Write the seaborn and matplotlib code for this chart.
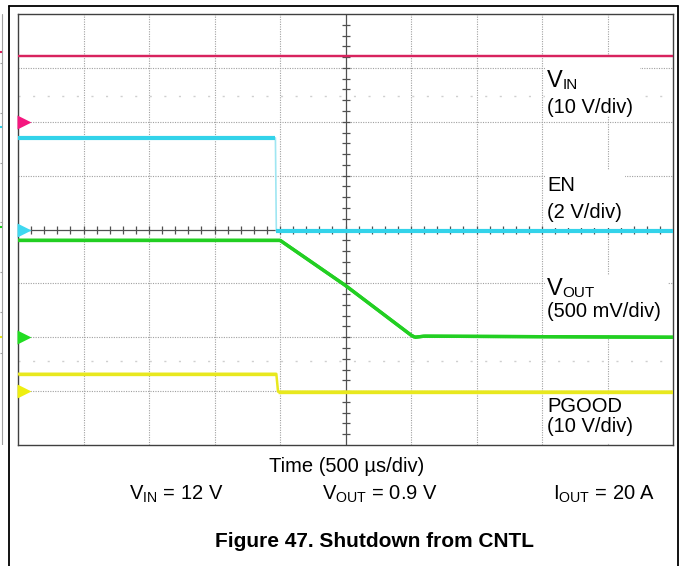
import numpy as np
import pandas as pd
import matplotlib.pyplot as plt
import seaborn as sns
from matplotlib.patches import Rectangle
from matplotlib.lines import Line2D

# scope traces, time in microseconds (500 us/div, 10 div)
time_vin = [0, 5000]
vin = [12.2, 12.2]

time_en = [0, 1965, 1972, 5000]
en = [3.4, 3.4, -0.06, -0.06]

time_vout = [0, 2000, 2250, 2500, 2750, 3000, 3030, 3100, 5000]
vout = [0.9, 0.9, 0.69, 0.48, 0.25, 0.02, 0.0, 0.01, 0.0]

time_pgood = [0, 1972, 1985, 5000]
pgood = [3.2, 3.2, -0.1, -0.1]

channels = ["VIN", "EN", "VOUT", "PGOOD"]
volts_per_div = [10, 2, 0.5, 10]
ground_div = [6, 4, 2, 1]
trace_colors = ["#d8235e", "#33d3ea", "#22cf22", "#e8e81e"]
edge_colors = ["#d8235e", "#9fe6f2", "#22cf22", "#e8e81e"]
marker_colors = ["#f5177f", "#3fd8f0", "#22dd22", "#eeee10"]
trace_widths = [1.6, 3.0, 2.4, 2.4]
edge_widths = [1.6, 1.2, 2.4, 1.8]

label_main = ["V", "EN", "V", "PGOOD"]
label_sub = ["IN", "", "OUT", ""]
label_scale = ["(10 V/div)", "(2 V/div)", "(500 mV/div)", "(10 V/div)"]

conditions = [r"$\mathregular{V_{IN}}$ = 12 V", r"$\mathregular{V_{OUT}}$ = 0.9 V",
              r"$\mathregular{I_{OUT}}$ = 20 A"]


def main():
    sns.set_theme(style="white")
    plt.rcParams["font.family"] = ["Liberation Sans", "DejaVu Sans"]
    plt.rcParams["mathtext.fontset"] = "custom"
    plt.rcParams["mathtext.rm"] = "Liberation Sans"
    plt.rcParams["text.color"] = "black"

    W, H = 683, 566
    fig = plt.figure(figsize=(W / 100, H / 100), dpi=100)

    # plot area in pixels: x 18..673, y 14..445
    ax = fig.add_axes([18 / W, 1 - 445 / H, 655 / W, 431 / H])
    ax.set_xlim(0, 5000)
    ax.set_ylim(0, 8)
    ax.set_xticks([])
    ax.set_yticks([])
    for s in ax.spines.values():
        s.set_color("#404040")
        s.set_linewidth(1.0)

    # graticule
    for x in range(500, 5000, 500):
        if x != 2500:
            ax.axvline(x, color="#a0a0a0", lw=0.8, ls=(0, (1, 1.2)), zorder=1)
    for y in range(1, 8):
        if y != 4:
            ax.axhline(y, color="#a0a0a0", lw=0.8, ls=(0, (1, 1.2)), zorder=1)
    ax.axvline(2500, color="#505050", lw=0.9, zorder=1)
    ax.axhline(4, color="#505050", lw=0.9, zorder=1)
    ax.plot(np.arange(100, 5000, 100), np.full(49, 4.0), ls="none", marker="|",
            ms=5.5, mew=0.9, color="#505050", zorder=1)
    ax.plot(np.full(39, 2500.0), np.arange(0.2, 8, 0.2), ls="none", marker="_",
            ms=5.5, mew=0.9, color="#505050", zorder=1)
    # faint ghost cursor lines
    for y in (6.47, 1.56):
        ax.axhline(y, color="#cfcfcf", lw=1.0, ls=(0, (1.5, 9)), zorder=1)

    # white backgrounds behind the channel labels
    boxes = [(4023, 6.1, 725, 1.09), (4023, 4.03, 611, 1.08),
             (4023, 2.04, 939, 1.12), (4023, 0.04, 939, 0.89)]
    for bx, by, bw, bh in boxes:
        ax.add_patch(Rectangle((bx, by), bw, bh, facecolor="white",
                               edgecolor="none", zorder=2))

    top_y = [6.64, 4.71, 2.78, 0.62]
    bot_y = [6.17, 4.22, 2.37, 0.247]
    for i in range(4):
        big = label_sub[i] != ""
        ax.text(4038, top_y[i], label_main[i], fontsize=17 if big else 14.5,
                va="baseline", ha="left", zorder=3)
        if big:
            ax.annotate(label_sub[i], xy=(4038, top_y[i]), xytext=(11.2, -1.6),
                        textcoords="offset points", fontsize=11, va="baseline",
                        ha="left", zorder=3)
        ax.text(4038, bot_y[i], label_scale[i], fontsize=14.5, va="baseline",
                ha="left", zorder=3)

    # one hidden axis per channel, each with its own V/div scale
    traces = [(time_vin, vin), (time_en, en), (time_vout, vout), (time_pgood, pgood)]
    for i, (t, v) in enumerate(traces):
        cax = ax.twinx()
        vd = volts_per_div[i]
        g = ground_div[i]
        cax.set_ylim(-g * vd, (8 - g) * vd)
        cax.axis("off")
        df = pd.DataFrame({"t": t, "v": v})
        # thin full trace (fast edges look faint on the scope), thick flat parts on top
        sns.lineplot(data=df, x="t", y="v", ax=cax, color=edge_colors[i],
                     lw=edge_widths[i], estimator=None, sort=False)
        slope = np.abs(np.diff(df["v"]) / np.diff(df["t"])) * 500 / vd
        for j in np.where(slope < 5)[0]:
            sns.lineplot(data=df.iloc[j:j + 2], x="t", y="v", ax=cax,
                         color=trace_colors[i], lw=trace_widths[i],
                         estimator=None, sort=False, solid_capstyle="butt")
        cax.plot([42], [0], marker=">", ms=10, color=marker_colors[i],
                 mec="none", clip_on=False)
        cax.set_xlim(0, 5000)

    # captions below the screen
    fig.text(347 / W, 1 - 471.7 / H, "Time (500 µs/div)", fontsize=14.5,
             ha="center", va="baseline")
    for cx, txt in zip([176, 380, 604], conditions):
        fig.text(cx / W, 1 - 500 / H, txt, fontsize=14.5, ha="center", va="baseline")
    fig.text(374.5 / W, 1 - 546.7 / H, "Figure 47. Shutdown from CNTL",
             fontsize=15, fontweight="bold", ha="center", va="baseline")

    # outer frame (open at the bottom)
    fx0, fx1, fy = 9 / W, 678 / W, 1 - 6 / H
    for xs, ys in [([fx0, fx0], [0, fy]), ([fx0, fx1], [fy, fy]), ([fx1, fx1], [0, fy])]:
        fig.add_artist(Line2D(xs, ys, transform=fig.transFigure, color="black", lw=1.3))

    # sliver of the neighbouring figure at the far left
    axl = fig.add_axes([0, 1 - 445 / H, 4 / W, 431 / H])
    axl.set_xlim(0, 4)
    axl.set_ylim(445, 14)
    axl.axis("off")
    axl.axvline(1.8, color="#a0a0a0", lw=0.8)
    for y in [63, 113, 163, 222, 272, 312, 353]:
        axl.hlines(y, 0, 1.8, color="#a0a0a0", lw=0.8)
    for y, c in zip([52, 127, 227, 337], trace_colors):
        axl.hlines(y, 0, 1.8, color=c, lw=1.5)

    fig.savefig("out.png", dpi=100)
    plt.close(fig)


if __name__ == "__main__":
    main()
